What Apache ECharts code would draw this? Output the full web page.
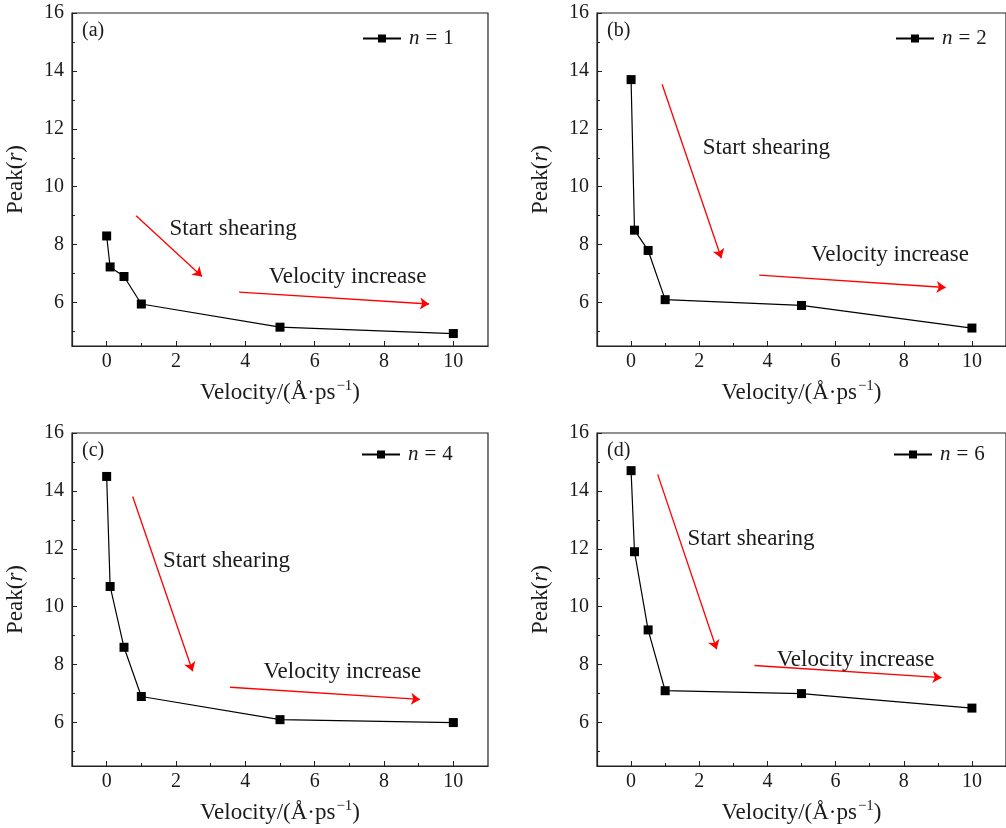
<!DOCTYPE html>
<html>
<head>
<meta charset="utf-8">
<script src="https://cdn.jsdelivr.net/npm/echarts@6/dist/echarts.min.js"></script>
<style>
  html, body { margin: 0; background: #fff; }
  #chart { width: 1006px; height: 828px; }
</style>
</head>
<body>
<div id="chart"></div>
<script>
// data
var velocity = [0, 0.1, 0.5, 1, 5, 10]
var peakN1 = [8.3, 7.23, 6.9, 5.95, 5.15, 4.93]
var peakN2 = [13.7, 8.5, 7.8, 6.1, 5.9, 5.12]
var peakN4 = [14.5, 10.7, 8.6, 6.9, 6.1, 6.0]
var peakN6 = [14.7, 11.9, 9.2, 7.1, 7.0, 6.5]
var seriesNames = ['n = 1', 'n = 2', 'n = 4', 'n = 6']
var panelLabels = ['(a)', '(b)', '(c)', '(d)']
var xMajorTicks = [0, 2, 4, 6, 8, 10]
var xMinorTicks = [1, 3, 5, 7, 9]
var yMajorTicks = [6, 8, 10, 12, 14, 16]
var yMinorTicks = [5, 7, 9, 11, 13, 15]

var peaks = [peakN1, peakN2, peakN4, peakN6]

// layout of each panel (grid in px, annotations in axis units)
var panels = [
  { left: 72, top: 13, legendLeft: 362, legendTop: 28,
    shear: [[0.85, 9.0], [2.75, 6.9]], shearText: [1.8, 8.55],
    vel: [[3.82, 6.36], [9.3, 5.95]], velText: [4.66, 6.88] },
  { left: 597, top: 13, legendLeft: 895, legendTop: 28,
    shear: [[0.91, 13.54], [2.65, 7.53]], shearText: [2.09, 11.35],
    vel: [[3.76, 6.95], [9.23, 6.52]], velText: [5.27, 7.66] },
  { left: 72, top: 433, legendLeft: 361, legendTop: 444,
    shear: [[0.75, 13.81], [2.48, 7.77]], shearText: [1.61, 11.58],
    vel: [[3.56, 7.22], [9.04, 6.8]], velText: [4.51, 7.75] },
  { left: 597, top: 433, legendLeft: 893, legendTop: 444,
    shear: [[0.78, 14.57], [2.51, 8.53]], shearText: [1.64, 12.35],
    vel: [[3.62, 7.97], [9.11, 7.55]], velText: [4.26, 8.16] }
]

var FONT = 'Liberation Serif'
var TEXT = '#1a1a1a'

var chart = echarts.init(document.getElementById('chart'))

var grid = []
var xAxis = []
var yAxis = []
var series = []
var legend = []
var title = []

panels.forEach(function (p, i) {
  grid.push({
    left: p.left,
    top: p.top,
    width: 416,
    height: 333,
    show: true,
    borderColor: '#222',
    borderWidth: 1.2,
    backgroundColor: 'transparent'
  })

  // main x axis with labels and major ticks
  xAxis.push({
    type: 'value',
    gridIndex: i,
    position: 'bottom',
    min: -1,
    max: 11,
    name: 'Velocity/(Å·ps{s|−1})',
    nameLocation: 'middle',
    nameGap: 33,
    nameTextStyle: {
      fontFamily: FONT, fontSize: 23, color: TEXT,
      rich: { s: { fontFamily: FONT, fontSize: 15, color: TEXT, padding: [0, 0, 12, 1] } }
    },
    axisLine: { onZero: false, lineStyle: { color: '#222', width: 1.2 } },
    axisTick: { inside: true, length: 5, customValues: xMajorTicks, lineStyle: { color: '#222' } },
    axisLabel: { customValues: xMajorTicks, margin: 6, fontFamily: FONT, fontSize: 20, color: TEXT },
    splitLine: { show: false }
  })
  // overlay axis just for minor ticks
  xAxis.push({
    type: 'value',
    gridIndex: i,
    position: 'bottom',
    min: -1,
    max: 11,
    axisLine: { show: false, onZero: false },
    axisTick: { inside: true, length: 3, customValues: xMinorTicks, lineStyle: { color: '#222' } },
    axisLabel: { show: false },
    splitLine: { show: false }
  })

  yAxis.push({
    type: 'value',
    gridIndex: i,
    position: 'left',
    min: 4.5,
    max: 16,
    name: 'Peak({i|r})',
    nameLocation: 'middle',
    nameGap: 45,
    nameTextStyle: {
      fontFamily: FONT, fontSize: 23, color: TEXT,
      rich: { i: { fontFamily: FONT, fontSize: 23, fontStyle: 'italic', color: TEXT } }
    },
    axisLine: { onZero: false, lineStyle: { color: '#222', width: 1.2 } },
    axisTick: { inside: true, length: 5, customValues: yMajorTicks, lineStyle: { color: '#222' } },
    axisLabel: { customValues: yMajorTicks, margin: 8, fontFamily: FONT, fontSize: 20, color: TEXT },
    splitLine: { show: false }
  })
  yAxis.push({
    type: 'value',
    gridIndex: i,
    position: 'left',
    min: 4.5,
    max: 16,
    axisLine: { show: false, onZero: false },
    axisTick: { inside: true, length: 3, customValues: yMinorTicks, lineStyle: { color: '#222' } },
    axisLabel: { show: false },
    splitLine: { show: false }
  })

  var pts = velocity.map(function (v, k) { return [v, peaks[i][k]] })

  series.push({
    name: seriesNames[i],
    type: 'line',
    xAxisIndex: i * 2,
    yAxisIndex: i * 2,
    data: pts,
    symbol: 'rect',
    symbolSize: 9,
    lineStyle: { color: '#000', width: 1.2 },
    itemStyle: { color: '#000' },
    markLine: {
      silent: true,
      symbol: ['none', 'arrow'],
      symbolSize: 9,
      lineStyle: { color: '#ff0000', width: 1.3, type: 'solid' },
      itemStyle: { color: '#ff0000' },
      label: { show: false },
      data: [
        [{ coord: p.shear[0] }, { coord: p.shear[1] }],
        [{ coord: p.vel[0] }, { coord: p.vel[1] }]
      ]
    },
    markPoint: {
      silent: true,
      symbol: 'rect',
      symbolSize: 1,
      itemStyle: { color: 'rgba(0,0,0,0)' },
      label: {
        show: true, position: 'right', distance: 0, formatter: '{b}',
        fontFamily: FONT, fontSize: 23, color: TEXT
      },
      data: [
        { name: 'Start shearing', coord: p.shearText },
        { name: 'Velocity increase', coord: p.velText }
      ]
    }
  })

  legend.push({
    data: [seriesNames[i]],
    left: p.legendLeft,
    top: p.legendTop,
    padding: 0,
    itemWidth: 38,
    itemHeight: 10,
    formatter: function (name) { return '{i|n}{e|=}' + name.split('= ')[1] },
    textStyle: {
      fontFamily: FONT, fontSize: 21, color: TEXT,
      rich: {
        i: { fontFamily: FONT, fontSize: 21, fontStyle: 'italic', color: TEXT, padding: [0, 0, 0, 3] },
        e: { fontFamily: FONT, fontSize: 21, color: TEXT, padding: [0, 6, 0, 6] }
      }
    }
  })

  title.push({
    text: panelLabels[i],
    left: p.left + 10,
    top: p.top + 8,
    padding: 0,
    textStyle: { fontFamily: FONT, fontSize: 20, fontWeight: 'normal', color: TEXT }
  })
})

chart.setOption({
  backgroundColor: '#fff',
  animation: false,
  title: title,
  legend: legend,
  grid: grid,
  xAxis: xAxis,
  yAxis: yAxis,
  series: series
})
</script>
</body>
</html>
